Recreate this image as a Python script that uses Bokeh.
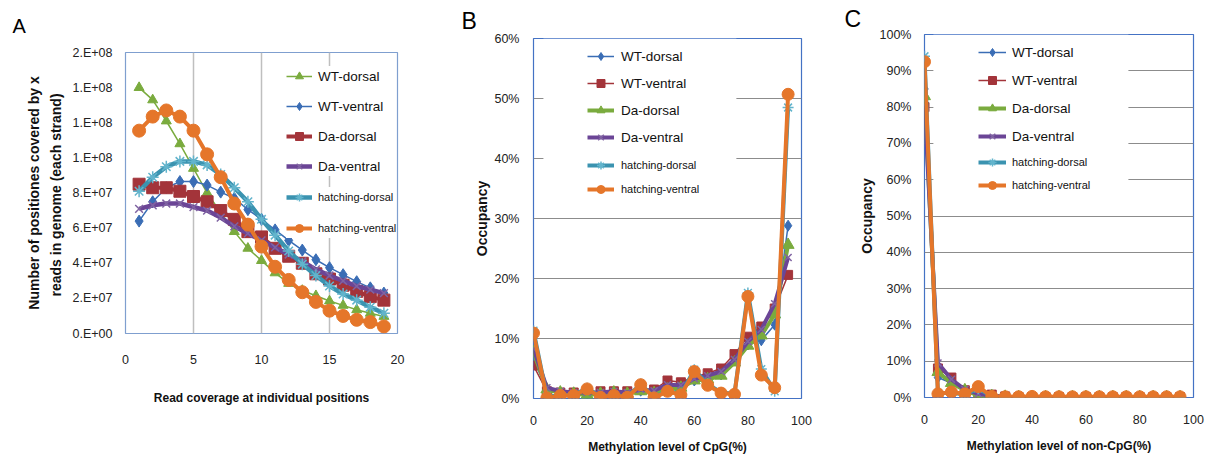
from bokeh.plotting import figure
from bokeh.models import FixedTicker, Legend, LegendItem, BoxAnnotation
from bokeh.layouts import row, column
from bokeh.embed import file_html
from bokeh.resources import INLINE

# ---------------- data ----------------
series_names = ["WT-dorsal", "WT-ventral", "Da-dorsal", "Da-ventral", "hatching-dorsal", "hatching-ventral"]

# Panel A: read coverage distribution
a_coverage = [1, 2, 3, 4, 5, 6, 7, 8, 9, 10, 11, 12, 13, 14, 15, 16, 17, 18, 19]
a_wt_dorsal = [1.40e8, 1.33e8, 1.21e8, 1.08e8, 9.4e7, 8.0e7, 6.9e7, 5.8e7, 4.85e7, 4.15e7,
               3.45e7, 2.85e7, 2.45e7, 2.15e7, 1.85e7, 1.6e7, 1.35e7, 1.15e7, 9.7e6]
a_wt_ventral = [6.4e7, 7.5e7, 8.3e7, 8.65e7, 8.65e7, 8.45e7, 8.05e7, 7.7e7, 7.05e7, 6.5e7,
                5.9e7, 5.3e7, 4.75e7, 4.2e7, 3.75e7, 3.35e7, 2.95e7, 2.6e7, 2.3e7]
a_da_dorsal = [8.5e7, 8.3e7, 8.3e7, 8.1e7, 7.8e7, 7.5e7, 7.0e7, 6.5e7, 5.8e7, 5.5e7,
               4.85e7, 4.4e7, 4.0e7, 3.4e7, 3.1e7, 2.75e7, 2.4e7, 2.1e7, 1.9e7]
a_da_ventral = [7.1e7, 7.3e7, 7.4e7, 7.4e7, 7.2e7, 7.0e7, 6.6e7, 6.1e7, 5.7e7, 5.3e7,
                4.9e7, 4.5e7, 4.1e7, 3.65e7, 3.3e7, 3.0e7, 2.7e7, 2.5e7, 2.3e7]
a_hatching_dorsal = [8.1e7, 8.9e7, 9.5e7, 9.8e7, 9.8e7, 9.6e7, 9.05e7, 8.3e7, 7.5e7, 6.5e7,
                     5.6e7, 4.7e7, 3.95e7, 3.3e7, 2.7e7, 2.25e7, 1.9e7, 1.5e7, 1.15e7]
a_hatching_ventral = [1.155e8, 1.235e8, 1.27e8, 1.235e8, 1.155e8, 1.02e8, 8.9e7, 7.4e7, 6.2e7, 4.95e7,
                      3.8e7, 3.05e7, 2.35e7, 1.8e7, 1.3e7, 1.0e7, 7.8e6, 6.5e6, 4.0e6]
a_xticks = [0, 5, 10, 15, 20]
a_yticks = [0, 20000000, 40000000, 60000000, 80000000, 100000000, 120000000, 140000000, 160000000]
a_ytick_labels = ["0.E+00", "2.E+07", "4.E+07", "6.E+07", "8.E+07", "1.E+08", "1.E+08", "1.E+08", "2.E+08"]

# Panel B: CpG methylation level (% occupancy)
b_level = [0, 5, 10, 15, 20, 25, 30, 35, 40, 45, 50, 55, 60, 65, 70, 75, 80, 85, 90, 95]
b_wt_dorsal = [6.5, 1.5, 1.0, 0.8, 0.8, 1.0, 1.0, 1.0, 1.3, 1.3, 2.0, 2.0, 3.0, 3.5, 4.0, 6.5, 9.0, 9.7, 12.3, 28.8]
b_wt_ventral = [5.5, 1.2, 1.0, 1.0, 1.0, 1.2, 1.2, 1.2, 1.5, 1.5, 3.0, 2.7, 3.6, 4.2, 5.0, 7.4, 10.3, 12.0, 15.0, 20.6]
b_da_dorsal = [7.7, 1.5, 1.0, 0.8, 0.6, 0.8, 1.0, 0.8, 1.2, 0.9, 1.5, 1.8, 3.0, 3.2, 3.8, 6.0, 8.8, 10.5, 14.0, 25.6]
b_da_ventral = [8.3, 1.8, 1.2, 1.0, 1.0, 1.0, 1.2, 1.0, 1.5, 1.3, 2.3, 2.2, 3.3, 3.8, 4.5, 6.5, 9.5, 11.5, 15.8, 23.5]
b_hatching_dorsal = [11.3, 0.3, 0.6, 0.6, 1.7, 0.3, 0.6, 0.3, 2.4, 0.2, 1.3, 0.7, 4.8, 2.4, 1.0, 0.8, 17.6, 4.9, 1.2, 48.5]
b_hatching_ventral = [10.9, 0.1, 0.5, 0.5, 1.6, 0.2, 0.5, 0.2, 2.3, 0.1, 1.2, 0.6, 4.5, 2.2, 0.9, 0.7, 17.0, 3.9, 1.8, 50.7]
b_xticks = [0, 20, 40, 60, 80, 100]
b_yticks = [0, 10, 20, 30, 40, 50, 60]
b_ytick_labels = ["0%", "10%", "20%", "30%", "40%", "50%", "60%"]

# Panel C: non-CpG methylation level (% occupancy)
c_level = [0, 5, 10, 15, 20, 25, 30, 35, 40, 45, 50, 55, 60, 65, 70, 75, 80, 85, 90, 95]
c_wt_dorsal = [85.0, 5.5, 4.0, 2.0, 1.0, 0.5, 0.2, 0.1, 0.1, 0.1, 0.1, 0.1, 0.1, 0.1, 0.1, 0.1, 0.1, 0.1, 0.1, 0.1]
c_wt_ventral = [80.0, 8.0, 5.5, 2.0, 1.0, 0.8, 0.3, 0.1, 0.1, 0.1, 0.1, 0.1, 0.1, 0.1, 0.1, 0.1, 0.1, 0.1, 0.1, 0.1]
c_da_dorsal = [83.0, 7.0, 4.0, 2.0, 0.5, 0.4, 0.2, 0.1, 0.1, 0.1, 0.1, 0.1, 0.1, 0.1, 0.1, 0.1, 0.1, 0.1, 0.1, 0.1]
c_da_ventral = [80.5, 9.5, 5.0, 2.2, 1.0, 0.5, 0.2, 0.1, 0.1, 0.1, 0.1, 0.1, 0.1, 0.1, 0.1, 0.1, 0.1, 0.1, 0.1, 0.1]
c_hatching_dorsal = [94.0, 1.2, 1.3, 0.8, 2.5, 0.2, 0.1, 0.1, 0.2, 0.1, 0.1, 0.1, 0.1, 0.1, 0.1, 0.1, 0.1, 0.1, 0.1, 0.1]
c_hatching_ventral = [92.5, 1.0, 1.5, 1.0, 3.0, 0.3, 0.2, 0.2, 0.3, 0.2, 0.2, 0.2, 0.2, 0.2, 0.2, 0.2, 0.2, 0.2, 0.2, 0.2]
c_xticks = [0, 20, 40, 60, 80, 100]
c_yticks = [0, 10, 20, 30, 40, 50, 60, 70, 80, 90, 100]
c_ytick_labels = ["0%", "10%", "20%", "30%", "40%", "50%", "60%", "70%", "80%", "90%", "100%"]

# ---------------- styles ----------------
GREEN, BLUE, RED, PURPLE, TEAL, ORANGE = "#7AAB3E", "#3A6DB5", "#A3343A", "#6B4596", "#3B93B0", "#E5762A"
# (color, marker, line width, marker size, marker line color)
styles_a = [(GREEN, "triangle", 1.5, 10, GREEN), (BLUE, "diamond", 1.5, 12, BLUE),
            (RED, "square", 4, 12, RED), (PURPLE, "x", 4.5, 11, "#8064A2"),
            (TEAL, "asterisk", 4.5, 12, "#62B4CC"), (ORANGE, "circle", 4, 13, ORANGE)]
styles_bc = [(BLUE, "diamond", 1.5, 11, BLUE), (RED, "square", 1.5, 9, RED),
             (GREEN, "triangle", 4, 12, GREEN), (PURPLE, "x", 4, 10, "#8064A2"),
             (TEAL, "asterisk", 4, 11, "#62B4CC"), (ORANGE, "circle", 4, 12, ORANGE)]

SANS = "Liberation Sans"


def make_fig(fw, fh, left, right, top, bottom, xr, yr, outline, letter, letter_size, letter_dx,
             letter_standoff, letter_valign):
    p = figure(frame_width=fw, frame_height=fh, min_border_left=left, min_border_right=right,
               min_border_top=top, min_border_bottom=bottom, x_range=xr, y_range=yr,
               output_backend="svg", toolbar_location=None, title=letter)
    p.title.align = "left"
    p.title.vertical_align = letter_valign
    p.title.offset = letter_dx
    p.title.standoff = letter_standoff
    p.title.text_font = SANS
    p.title.text_font_style = "normal"
    p.title.text_font_size = letter_size
    p.title.text_color = "#000000"
    p.outline_line_color = outline
    p.outline_line_width = 1.2
    p.background_fill_color = "white"
    p.border_fill_color = "white"
    for ax in (p.xaxis[0], p.yaxis[0]):
        ax.axis_line_color = None
        ax.major_tick_line_color = None
        ax.minor_tick_line_color = None
        ax.major_tick_out = 0
        ax.major_tick_in = 0
        ax.major_label_text_font = SANS
        ax.major_label_text_font_size = "12.5px"
        ax.major_label_text_color = "#222222"
        ax.axis_label_text_font = SANS
        ax.axis_label_text_font_style = "bold"
        ax.axis_label_text_color = "#111111"
    return p


def add_series(p, x, ys, styles):
    groups = []
    for y, (col, mk, lw, ms, mline) in zip(ys, styles):
        rl = p.line(x, y, line_color=col, line_width=lw)
        if mk in ("x", "asterisk"):
            rm = p.scatter(x, y, marker=mk, size=ms, line_color=mline, line_width=1.5)
        else:
            rm = p.scatter(x, y, marker=mk, size=ms, fill_color=col, line_color=mline, line_width=1)
        groups.append([rl, rm])
    return groups


def add_legends(p, groups, loc1, loc2, spacing1, spacing2, pad, glyph_w, standoff, fs1, fs2, bg):
    items1 = [LegendItem(label=n, renderers=g) for n, g in zip(series_names[:4], groups[:4])]
    items2 = [LegendItem(label=n, renderers=g) for n, g in zip(series_names[4:], groups[4:])]
    for items, loc, sp, fs in ((items1, loc1, spacing1, fs1), (items2, loc2, spacing2, fs2)):
        lg = Legend(items=items, location=loc, spacing=sp, padding=pad, margin=0,
                    glyph_width=glyph_w, glyph_height=20, label_height=20, label_standoff=standoff,
                    label_text_font=SANS, label_text_font_size=fs, label_text_color="#111111",
                    border_line_color=None, background_fill_color="white", background_fill_alpha=bg)
        p.add_layout(lg)


# ---------------- Panel A ----------------
pa = make_fig(272, 281, 125, 23, 52, 120, (0, 20), (0, 160000000), "#7F9FCF", "A", "20px", -113, 28, "top")
pa.xaxis.ticker = FixedTicker(ticks=a_xticks)
pa.yaxis.ticker = FixedTicker(ticks=a_yticks)
pa.yaxis.major_label_overrides = {t: s for t, s in zip(a_yticks, a_ytick_labels)}
pa.xaxis.major_label_standoff = 21
pa.yaxis.major_label_standoff = 13
pa.xaxis.axis_label = "Read coverage at individual positions"
pa.xaxis.axis_label_text_font_size = "12px"
pa.xaxis.axis_label_standoff = 24
pa.yaxis.axis_label = "Number of positiones covered by x\nreads in genome (each  strand)"
pa.yaxis.axis_label_text_font_size = "14px"
pa.yaxis.axis_label_text_line_height = 1.35
pa.yaxis.axis_label_standoff = 6
pa.ygrid.visible = False
pa.xgrid.grid_line_color = "#BFBFBF"
pa.xgrid.grid_line_width = 1.5
ga = add_series(pa, a_coverage, [a_wt_dorsal, a_wt_ventral, a_da_dorsal, a_da_ventral,
                                 a_hatching_dorsal, a_hatching_ventral], styles_a)
add_legends(pa, ga, (161, 157), (161, 95), 10, 11, 6, 26, 6, "13.5px", "11px", 1)

# ---------------- Panel B ----------------
pb = make_fig(268, 360, 113, 19, 37, 60, (0, 100), (0, 60), "#4472C4", "B", "23px", -72, 10, "bottom")
pb.xaxis.ticker = FixedTicker(ticks=b_xticks)
pb.yaxis.ticker = FixedTicker(ticks=b_yticks)
pb.yaxis.major_label_overrides = {t: s for t, s in zip(b_yticks, b_ytick_labels)}
pb.xaxis.major_label_standoff = 17
pb.yaxis.major_label_standoff = 14
pb.xaxis.axis_label = "Methylation level of CpG(%)"
pb.xaxis.axis_label_text_font_size = "12px"
pb.xaxis.axis_label_standoff = 12
pb.yaxis.axis_label = "Occupancy"
pb.yaxis.axis_label_text_font_size = "14px"
pb.yaxis.axis_label_standoff = 1
pb.xgrid.visible = False
pb.ygrid.grid_line_color = "#8C8C8C"
pb.ygrid.grid_line_width = 1
pb.add_layout(BoxAnnotation(left=3.7, right=75.7, bottom=32.5, top=60, fill_color="white",
                            fill_alpha=1, line_color=None, level="underlay"))
gb = add_series(pb, b_level, [b_wt_dorsal, b_wt_ventral, b_da_dorsal, b_da_ventral,
                              b_hatching_dorsal, b_hatching_ventral], styles_bc)
add_legends(pb, gb, (54, 251), (54, 199), 7, 4, 4, 27, 7, "13.5px", "11px", 0)

# ---------------- Panel C ----------------
pc = make_fig(269, 363, 104, 17, 34, 60, (0, 100), (0, 100), "#4472C4", "C", "23px", -80, 5, "bottom")
pc.xaxis.ticker = FixedTicker(ticks=c_xticks)
pc.yaxis.ticker = FixedTicker(ticks=c_yticks)
pc.yaxis.major_label_overrides = {t: s for t, s in zip(c_yticks, c_ytick_labels)}
pc.xaxis.major_label_standoff = 17
pc.yaxis.major_label_standoff = 13
pc.xaxis.axis_label = "Methylation level of non-CpG(%)"
pc.xaxis.axis_label_text_font_size = "12px"
pc.xaxis.axis_label_standoff = 12
pc.yaxis.axis_label = "Occupancy"
pc.yaxis.axis_label_text_font_size = "14px"
pc.yaxis.axis_label_standoff = 2
pc.xgrid.visible = False
pc.ygrid.grid_line_color = "#8C8C8C"
pc.ygrid.grid_line_width = 1
pc.add_layout(BoxAnnotation(left=3.3, right=75.8, bottom=55, top=100, fill_color="white",
                            fill_alpha=1, line_color=None, level="underlay"))
gc = add_series(pc, c_level, [c_wt_dorsal, c_wt_ventral, c_da_dorsal, c_da_ventral,
                              c_hatching_dorsal, c_hatching_ventral], styles_bc)
add_legends(pc, gc, (54, 251), (54, 202), 8, 3, 4, 28, 6, "13.5px", "11px", 0)

layout = row(column(pa), column(pb), column(pc))
open("out.html", "w").write(file_html(layout, INLINE))
